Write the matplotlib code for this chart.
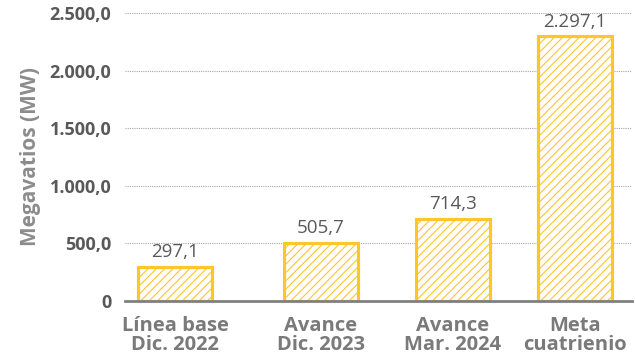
import matplotlib.pyplot as plt
from matplotlib.ticker import FuncFormatter

plt.rcParams['font.family'] = ['Open Sans', 'DejaVu Sans']
plt.rcParams['hatch.linewidth'] = 0.8
plt.rcParams['hatch.color'] = '#FFE08C'

categorias = ["Línea base\nDic. 2022", "Avance\nDic. 2023", "Avance\nMar. 2024", "Meta\ncuatrienio"]
megavatios = [297.1, 505.7, 714.3, 2297.1]
yticks = [0, 500, 1000, 1500, 2000, 2500]

# bar centres, in units of the first gap
posiciones = [0, 1, 1.904, 2.74]


def es_num(v, dec=1):
    s = f"{v:,.{dec}f}"
    return s.replace(",", "X").replace(".", ",").replace("X", ".")


fig = plt.figure(figsize=(6.35, 3.59), dpi=100)
ax = fig.add_axes([0.197, 0.1616, 0.798, 0.8022])

bars = ax.bar(posiciones, megavatios, width=0.507, color='white',
              edgecolor='#FFC629', linewidth=2.2, hatch='////', zorder=3)
# draw the outline again on top, without hatch
ax.bar(posiciones, megavatios, width=0.507, fill=False,
       edgecolor='#FFC629', linewidth=2.2, zorder=4)

for p, v in zip(posiciones, megavatios):
    ax.annotate(es_num(v), (p, v), xytext=(0, 4), textcoords='offset points',
                ha='center', va='bottom', fontsize=13.5, color='#595959')

ax.set_xlim(-0.342, 3.13)
ax.set_ylim(0, 2500)
ax.set_yticks(yticks)
ax.yaxis.set_major_formatter(FuncFormatter(lambda v, _: "0" if v == 0 else es_num(v)))
ax.set_xticks(posiciones)
ax.set_xticklabels(categorias, fontsize=14.5, fontweight='bold', color='#7A7A7A',
                   linespacing=0.92)
for lbl in ax.get_yticklabels():
    lbl.set_fontweight('bold')
ax.tick_params(axis='y', length=0, pad=10, labelsize=13, labelcolor='#595959')
ax.tick_params(axis='x', length=0, pad=11)

ax.grid(axis='y', linestyle=(0, (1, 1)), color='#A6A6A6', linewidth=0.8, zorder=0)
for s in ['top', 'right', 'left']:
    ax.spines[s].set_visible(False)
ax.spines['bottom'].set_color('#808080')
ax.spines['bottom'].set_linewidth(2)
ax.spines['bottom'].set_zorder(5)

ax.set_ylabel("Megavatios (MW)", fontsize=15, fontweight='bold', color='#8C8C8C',
              labelpad=6)

fig.savefig("out.png", dpi=100)
